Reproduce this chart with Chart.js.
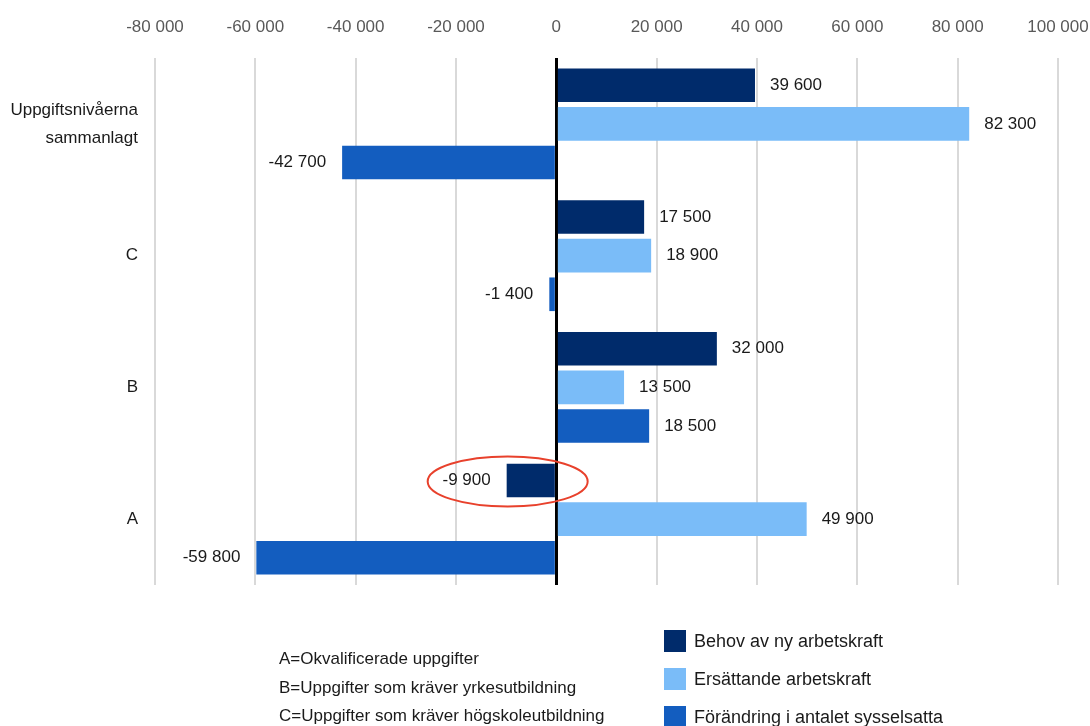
<!DOCTYPE html>
<html>
<head>
<meta charset="utf-8">
<script src="https://cdn.jsdelivr.net/npm/chart.js@4"></script>
<style>
  body { margin: 0; background: #fff; font-family: 'Liberation Sans Narrow', 'Liberation Sans', sans-serif; }
  #wrap { position: relative; width: 1090px; height: 726px; }
  #note { position: absolute; left: 279px; top: 645px; font-size: 17px; line-height: 28.5px; color: #1a1a1a; }
  #legend { position: absolute; left: 664px; top: 622px; font-size: 18px; color: #1a1a1a; }
  #legend div { display: flex; align-items: center; height: 38px; }
  #legend span.box { width: 22px; height: 22px; margin-right: 8px; display: inline-block; }
</style>
</head>
<body>
<div id="wrap">
  <canvas id="chart" width="1090" height="726"></canvas>
  <div id="note">A=Okvalificerade uppgifter<br>B=Uppgifter som kräver yrkesutbildning<br>C=Uppgifter som kräver högskoleutbildning</div>
  <div id="legend"></div>
</div>
<script>
const FONT = "'Liberation Sans Narrow', 'Liberation Sans', sans-serif";

const categories = [['Uppgiftsnivåerna', 'sammanlagt'], 'C', 'B', 'A'];
const seriesNames = ['Behov av ny arbetskraft', 'Ersättande arbetskraft', 'Förändring i antalet sysselsatta'];
const seriesColors = ['#002b6b', '#7abcf8', '#135dbf'];
const behov = [39600, 17500, 32000, -9900];
const ersattande = [82300, 18900, 13500, 49900];
const forandring = [-42700, -1400, 18500, -59800];

// the bar circled in red: dataset 0, category A
const circled = { dataset: 0, index: 3 };

function fmt(v) {
  const s = Math.abs(v).toString().replace(/\B(?=(\d{3})+(?!\d))/g, ' ');
  return (v < 0 ? '-' : '') + s;
}

const barLabels = {
  id: 'barLabels',
  afterDatasetsDraw(chart) {
    const ctx = chart.ctx;
    ctx.save();
    ctx.font = '17px ' + FONT;
    ctx.fillStyle = '#1a1a1a';
    ctx.textBaseline = 'middle';
    chart.data.datasets.forEach((ds, di) => {
      chart.getDatasetMeta(di).data.forEach((el, i) => {
        const v = ds.data[i];
        if (v >= 0) { ctx.textAlign = 'left'; ctx.fillText(fmt(v), el.x + 15, el.y); }
        else { ctx.textAlign = 'right'; ctx.fillText(fmt(v), el.x - 16, el.y); }
      });
    });
    // red ellipse around the highlighted bar end
    const el = chart.getDatasetMeta(circled.dataset).data[circled.index];
    ctx.strokeStyle = '#e8412c';
    ctx.lineWidth = 2;
    ctx.beginPath();
    ctx.ellipse(el.x + 1, el.y + 1, 80, 25, 0, 0, Math.PI * 2);
    ctx.stroke();
    ctx.restore();
  }
};

const chart = new Chart(document.getElementById('chart'), {
  type: 'bar',
  data: {
    labels: categories,
    datasets: [
      { label: seriesNames[0], data: behov, backgroundColor: seriesColors[0] },
      { label: seriesNames[1], data: ersattande, backgroundColor: seriesColors[1] },
      { label: seriesNames[2], data: forandring, backgroundColor: seriesColors[2] }
    ]
  },
  options: {
    indexAxis: 'y',
    responsive: false,
    animation: false,
    categoryPercentage: 0.88,
    barPercentage: 0.87,
    layout: { padding: { top: 0, right: 32, bottom: 141, left: 0 } },
    plugins: { legend: { display: false }, tooltip: { enabled: false } },
    scales: {
      x: {
        position: 'top',
        min: -80000,
        max: 100000,
        border: { display: false },
        grid: {
          drawTicks: false,
          color: c => c.tick && c.tick.value === 0 ? '#000' : '#d9d9d9',
          lineWidth: c => c.tick && c.tick.value === 0 ? 3 : 2
        },
        ticks: {
          stepSize: 20000,
          padding: 20,
          color: '#595959',
          font: { family: FONT, size: 17 },
          callback: v => fmt(v)
        },
        afterFit: s => { s.height = 58; s.paddingLeft = 0; s.paddingRight = 0; }
      },
      y: {
        border: { display: false },
        grid: { display: false, drawTicks: false },
        ticks: { color: '#1a1a1a', padding: 17, font: { family: FONT, size: 17, lineHeight: 1.65 } },
        afterFit: s => { s.width = 155; }
      }
    }
  },
  plugins: [barLabels]
});

const legend = document.getElementById('legend');
chart.data.datasets.forEach(ds => {
  const row = document.createElement('div');
  const box = document.createElement('span');
  box.className = 'box';
  box.style.background = ds.backgroundColor;
  row.appendChild(box);
  row.appendChild(document.createTextNode(ds.label));
  legend.appendChild(row);
});
</script>
</body>
</html>
